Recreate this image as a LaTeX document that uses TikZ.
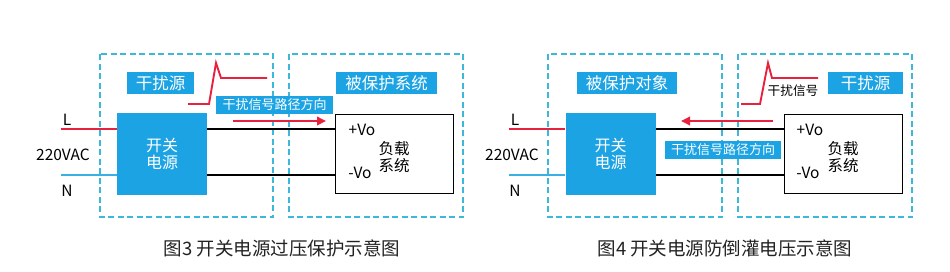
\documentclass[tikz,border=0pt]{standalone}
\usepackage{fontspec}
\setmainfont{Noto Sans CJK SC}
\usetikzlibrary{arrows.meta}
\definecolor{boxblue}{HTML}{1CA3E3}
\definecolor{dashblue}{HTML}{3DB8DA}
\definecolor{sigred}{HTML}{E8213E}
\definecolor{nblue}{HTML}{3AB0E2}
\definecolor{captext}{HTML}{222222}
\tikzset{
    % --- zones and boxes ---
    zone/.style={draw=dashblue, line width=1.9pt, dash pattern=on 6pt off 3.5pt},
    tag/.style={fill=boxblue, text=white, inner sep=0pt, minimum height=22pt,
                font=\fontsize{16.5}{17}\selectfont},
    pathtag/.style={tag, minimum height=18pt, font=\fontsize{13}{13}\selectfont},
    psu/.style={fill=boxblue, text=white, inner sep=0pt, align=center,
                minimum width=90pt, minimum height=82pt,
                font=\fontsize{16}{17}\selectfont},
    loadbox/.style={draw=black, fill=white, line width=1.8pt, inner sep=0pt,
                    minimum width=118pt, minimum height=79pt},
    lbl/.style={inner sep=0pt, align=center, font=\fontsize{15.5}{17.5}\selectfont},
    small_lbl/.style={inner sep=0pt, font=\fontsize{12.7}{13}\selectfont},
    caption/.style={inner sep=0pt, text=captext, font=\fontsize{18.5}{19}\selectfont},
    % --- lines ---
    wire/.style={line width=1.9pt},
    pulse/.style={draw=sigred, line width=1.9pt},
    noisearrow/.style={draw=sigred, line width=1.9pt, -{Triangle[length=9pt,width=8.5pt]}}
}
\begin{document}
\begin{tikzpicture}[x=1pt,y=-1pt]
    \useasboundingbox (0,0) rectangle (950,271);

    % Fig. 3
    \draw[zone] (100,54) rectangle (273,217);
    \draw[zone] (289,54) rectangle (463,217);

    \node[tag, minimum width=67pt] (src3) at (160.5,83) {干扰源};
    \node[tag, minimum width=101pt] (prot3) at (386.5,83) {被保护系统};
    \node[pathtag, minimum width=117pt] (path3) at (274.5,105) {干扰信号路径方向};

    \draw[pulse] (188,104) -- (209,104) -- (216,63) -- (221,78) -- (267,78);

    \node[psu] (psu3) at (162,154) {开关\\电源};
    \node[loadbox] (load3) at (394.5,154) {};
    \node[lbl] (sys3) at (394,157) {负载\\系统};
    \node[lbl] (vp3) at (362,130) {+Vo};
    \node[lbl] (vm3) at (360,173) {-Vo};

    \node[lbl] (L3) at (67,120) {L};
    \node[lbl] (ac3) at (63,155) {220VAC};
    \node[lbl] (N3) at (67,191) {N};
    \coordinate (Lin3) at (61,129);
    \coordinate (Nin3) at (61,175);

    \draw[wire, sigred] (Lin3) -- (Lin3 -| psu3.west);
    \draw[wire, nblue] (Nin3) -- (Nin3 -| psu3.west);
    \draw[wire] (psu3.east |- Lin3) -- (load3.west |- Lin3);
    \draw[wire] (psu3.east |- Nin3) -- (load3.west |- Nin3);

    \coordinate (a3s) at (233,121);
    \coordinate (a3e) at (326,121);
    \draw[noisearrow] (a3s) -- (a3e);

    \node[caption] (cap3) at (282,248) {图3 开关电源过压保护示意图};

    % Fig. 4
    \draw[zone] (548,54) rectangle (722,217);
    \draw[zone] (738,54) rectangle (912,217);

    \node[tag, minimum width=100pt] (prot4) at (627,83) {被保护对象};
    \node[tag, minimum width=75pt] (src4) at (865.5,83) {干扰源};
    \node[pathtag, minimum width=116pt] (path4) at (723,149.5) {干扰信号路径方向};

    \draw[pulse] (741,104) -- (760,104) -- (768,63) -- (772,78) -- (818,78);
    \node[small_lbl] (sig4) at (793,91) {干扰信号};

    \node[psu] (psu4) at (610.5,154) {开关\\电源};
    \node[loadbox] (load4) at (843.5,154) {};
    \node[lbl] (sys4) at (843,157) {负载\\系统};
    \node[lbl] (vp4) at (810,130) {+Vo};
    \node[lbl] (vm4) at (808,173) {-Vo};

    \node[lbl] (L4) at (515,120) {L};
    \node[lbl] (ac4) at (512,155) {220VAC};
    \node[lbl] (N4) at (515,191) {N};
    \coordinate (Lin4) at (509,129);
    \coordinate (Nin4) at (509,175);

    \draw[wire, sigred] (Lin4) -- (Lin4 -| psu4.west);
    \draw[wire, nblue] (Nin4) -- (Nin4 -| psu4.west);
    \draw[wire] (psu4.east |- Lin4) -- (load4.west |- Lin4);
    \draw[wire] (psu4.east |- Nin4) -- (load4.west |- Nin4);

    \coordinate (a4s) at (773,121);
    \coordinate (a4e) at (681,121);
    \draw[noisearrow] (a4s) -- (a4e);

    \node[caption] (cap4) at (725,248) {图4 开关电源防倒灌电压示意图};
\end{tikzpicture}
\end{document}
